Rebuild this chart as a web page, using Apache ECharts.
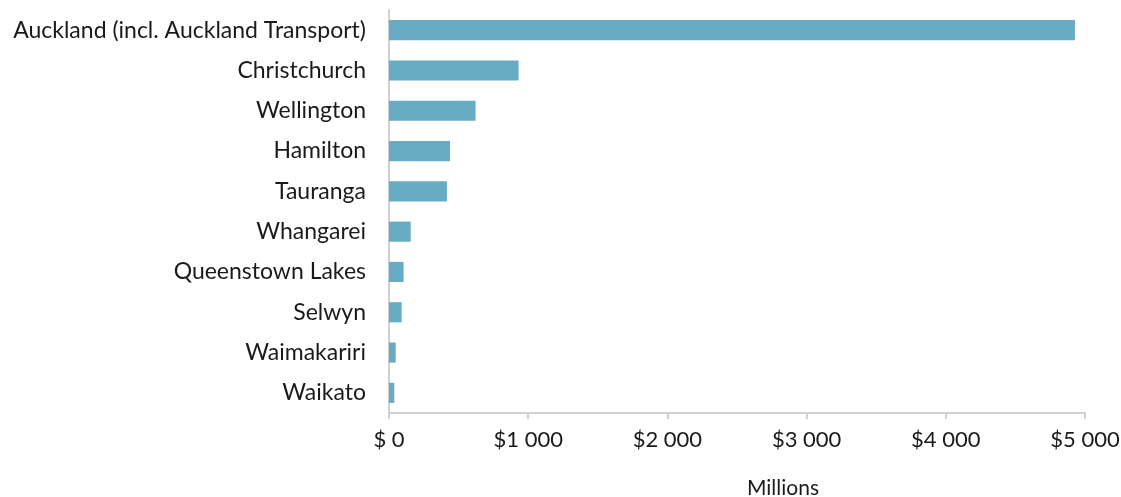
<!DOCTYPE html>
<html>
<head>
<meta charset="utf-8">
<script src="https://cdn.jsdelivr.net/npm/echarts@6/dist/echarts.min.js"></script>
<style>
  html, body { margin: 0; padding: 0; background: #fff; }
  #chart { width: 1121px; height: 497px; }
</style>
</head>
<body>
<div id="chart"></div>
<script>
// Council spending by territorial authority ($ millions)
const councils = [
  'Auckland (incl. Auckland Transport)',
  'Christchurch',
  'Wellington',
  'Hamilton',
  'Tauranga',
  'Whangarei',
  'Queenstown Lakes',
  'Selwyn',
  'Waimakariri',
  'Waikato'
];
const spending = [4928, 931, 622, 438, 416, 156, 105, 91, 48, 38];
const tickValues = [0, 1000, 2000, 3000, 4000, 5000];
const tickLabels = ['$ 0', '$1 000', '$2 000', '$3 000', '$4 000', '$5 000'];

const FONT = 'Lato, "Noto Sans", sans-serif';
const TEXT = '#1a1a1a';
const chart = echarts.init(document.getElementById('chart'));

chart.setOption({
  animation: false,
  grid: { left: 389, right: 36, top: 10, bottom: 84, containLabel: false, outerBoundsMode: 'none' },
  xAxis: {
    type: 'value',
    min: 0,
    max: 5000,
    interval: 1000,
    name: 'Millions',
    nameLocation: 'middle',
    nameGap: 65,
    nameTextStyle: { fontFamily: FONT, fontSize: 21, color: TEXT, padding: [0, 0, 0, 92] },
    axisLine: { show: true, lineStyle: { color: '#d0d0d0', width: 2 } },
    axisTick: { show: true, length: 6, lineStyle: { color: '#d0d0d0', width: 2 } },
    splitLine: { show: false },
    axisLabel: {
      margin: 16,
      fontFamily: FONT,
      fontSize: 22,
      color: TEXT,
      formatter: v => tickLabels[tickValues.indexOf(v)] ?? ''
    }
  },
  yAxis: {
    type: 'category',
    data: councils,
    inverse: true,
    axisLine: { show: true, lineStyle: { color: '#d0d0d0', width: 2 } },
    axisTick: { show: false },
    axisLabel: { margin: 23, fontFamily: FONT, fontSize: 23, color: TEXT }
  },
  series: [{
    type: 'bar',
    data: spending,
    barWidth: '50%',
    itemStyle: { color: '#68acc4' }
  }]
});
</script>
</body>
</html>
